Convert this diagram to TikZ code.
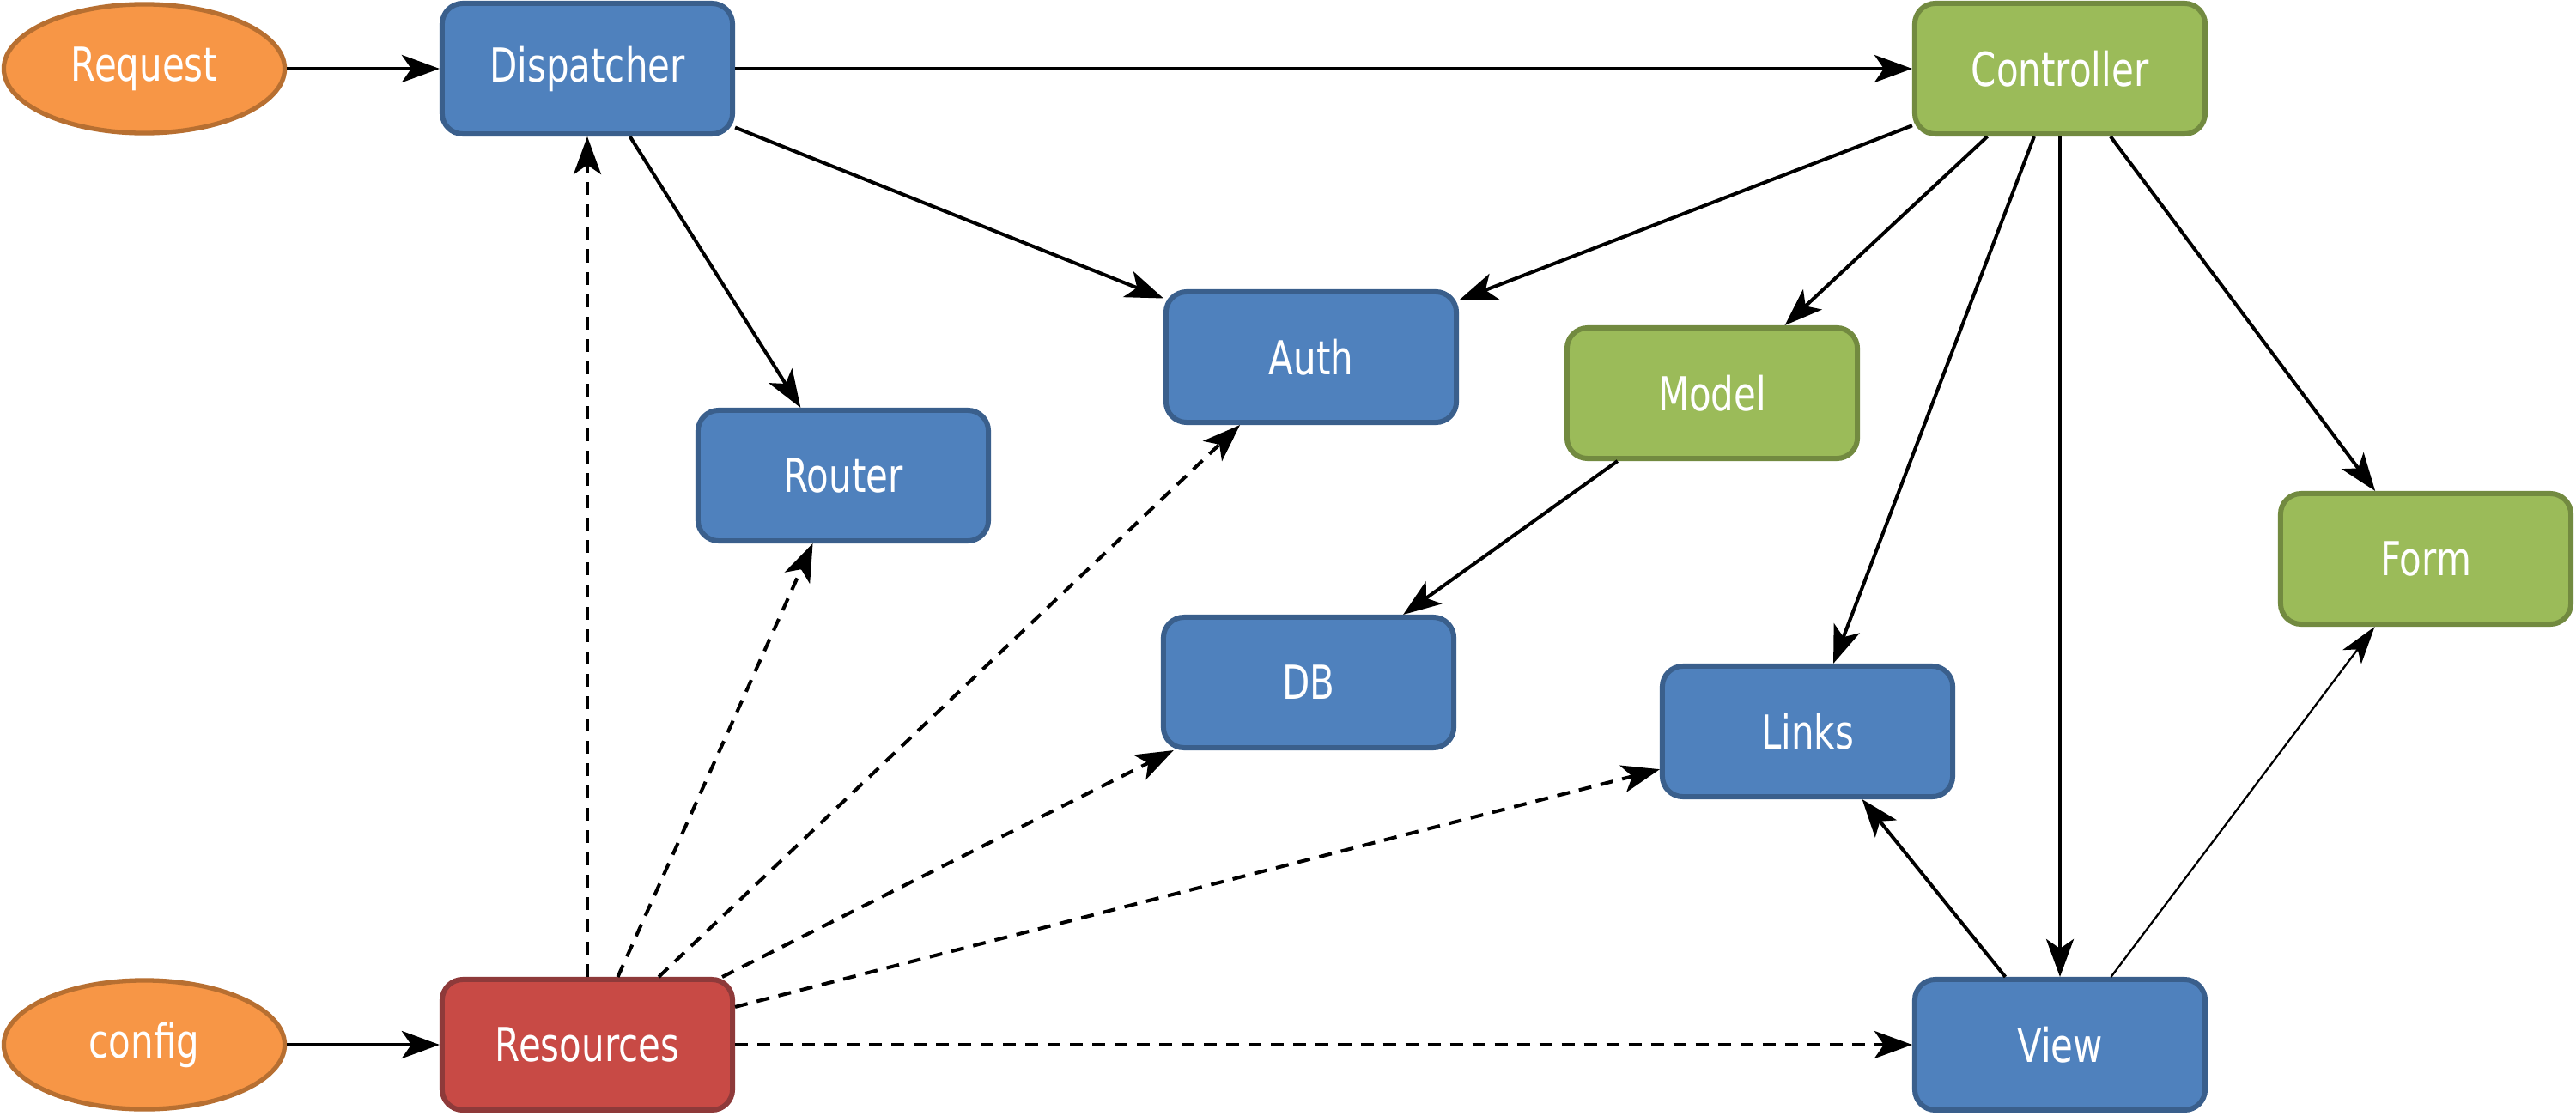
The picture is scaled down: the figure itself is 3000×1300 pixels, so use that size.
\documentclass[tikz,border=0pt]{standalone}
\usepackage{fontspec}
\setmainfont{DejaVu Sans}[FakeStretch=0.77]
\usetikzlibrary{arrows.meta,shapes.geometric}
\definecolor{bfill}{HTML}{4F81BD}
\definecolor{bline}{HTML}{3A5F8C}
\definecolor{gfill}{HTML}{9BBB59}
\definecolor{gline}{HTML}{728A40}
\definecolor{rfill}{HTML}{C84A45}
\definecolor{rline}{HTML}{8E3A3A}
\definecolor{ofill}{HTML}{F79646}
\definecolor{oline}{HTML}{B76F31}
\tikzset{
  box/.style={rectangle, rounded corners=0.24cm, minimum width=3.38cm, minimum height=1.52cm, inner sep=0pt, line width=1.7pt, text=white, font=\fontsize{15.5}{18}\selectfont},
  bluebox/.style={box, fill=bfill, draw=bline},
  greenbox/.style={box, fill=gfill, draw=gline},
  redbox/.style={box, fill=rfill, draw=rline},
  oval/.style={ellipse, minimum width=3.27cm, minimum height=1.50cm, inner sep=0pt, line width=1.5pt, fill=ofill, draw=oline, text=white, font=\fontsize{15.5}{18}\selectfont},
  conn/.style={line width=1.15pt, -{Stealth[length=0.44cm, width=0.32cm, inset=0.11cm]}},
  thinconn/.style={line width=0.65pt, -{Stealth[length=0.44cm, width=0.27cm, inset=0.11cm]}},
  dconn/.style={conn, dash pattern=on 0.15cm off 0.11cm},
}
\begin{document}
\begin{tikzpicture}[x=0.01cm, y=-0.01cm]
\useasboundingbox (0,0) rectangle (3000,1300);
\node[oval] (req) at (168,80) {Request};
\node[bluebox] (disp) at (684,80) {Dispatcher};
\node[greenbox] (ctrl) at (2399,80) {Controller};
\node[bluebox] (auth) at (1527,416) {Auth};
\node[bluebox] (router) at (982,554) {Router};
\node[greenbox] (model) at (1994,458) {Model};
\node[greenbox] (form) at (2825,651) {Form};
\node[bluebox] (db) at (1524,795) {DB};
\node[bluebox] (links) at (2105,852) {Links};
\node[oval] (config) at (168,1217) {config};
\node[redbox] (res) at (684,1217) {Resources};
\node[bluebox] (view) at (2399,1217) {View};

\draw[conn] (req) -- (disp);
\draw[conn] (disp) -- (ctrl);
\draw[conn] (disp) -- (auth);
\draw[conn] (disp) -- (router);
\draw[conn] (ctrl) -- (auth);
\draw[conn] (ctrl) -- (model);
\draw[conn] (ctrl) -- (links);
\draw[conn] (ctrl) -- (view);
\draw[conn] (ctrl) -- (form);
\draw[conn] (model) -- (db);
\draw[conn] (view) -- (links);
\draw[thinconn] (view) -- (form);
\draw[conn] (config) -- (res);
\draw[dconn] (res) -- (disp);
\draw[dconn] (res) -- (router);
\draw[dconn] (res) -- (auth);
\draw[dconn] (res) -- (db);
\draw[dconn] (res) -- (links);
\draw[dconn] (res) -- (view);
\end{tikzpicture}
\end{document}
